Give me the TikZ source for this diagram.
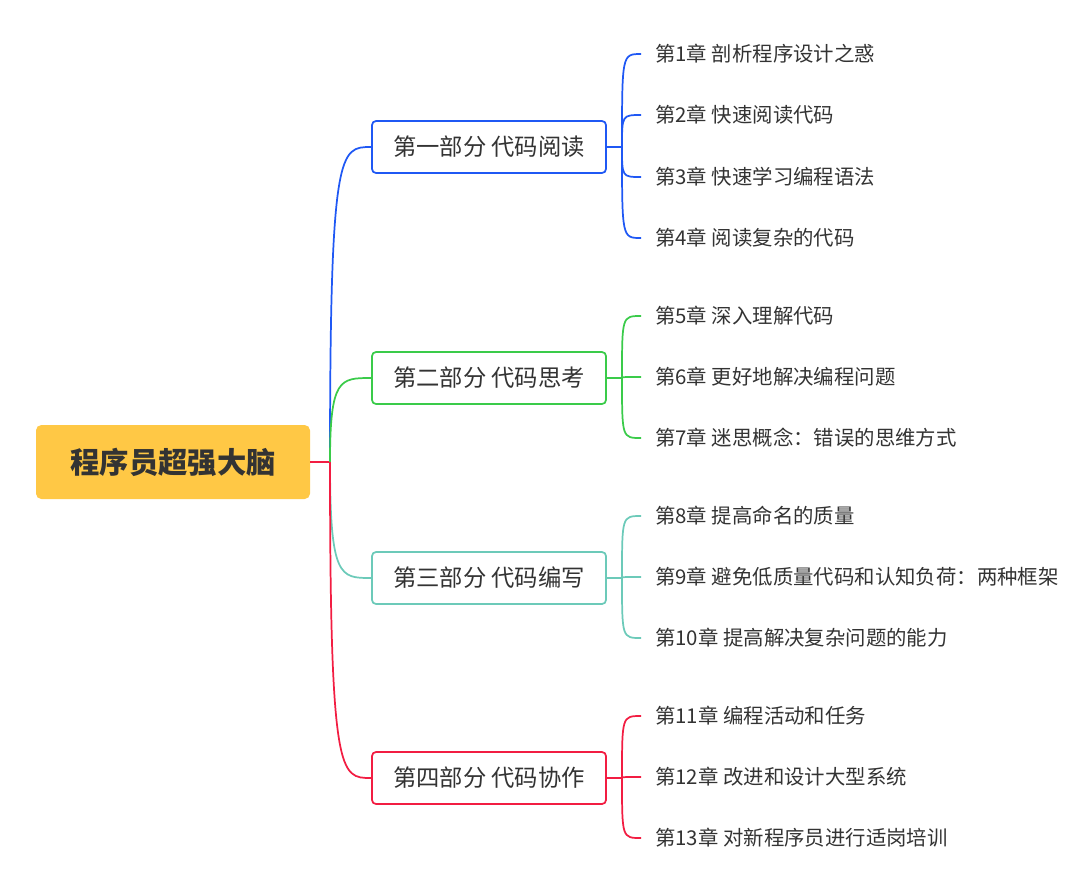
\documentclass[tikz,border=0pt]{standalone}
\usepackage{fontspec}
\setmainfont{Noto Sans CJK SC}
\usetikzlibrary{positioning}
\definecolor{rootfill}{HTML}{FFC845}
\definecolor{cblue}{HTML}{1F58F4}
\definecolor{cgreen}{HTML}{3ACB4A}
\definecolor{cteal}{HTML}{6CCAB9}
\definecolor{cred}{HTML}{F21D42}
\definecolor{ink}{HTML}{333333}
\tikzset{%
	rootbox/.style = {fill=rootfill, rounded corners=4pt, minimum width=205.5pt, minimum height=55.5pt, text=ink, font=\fontsize{22}{26}\selectfont\bfseries},
	partbox/.style = {draw, fill=white, line width=1.3pt, rounded corners=3pt, minimum width=175.5pt, minimum height=39pt, text=ink, font=\fontsize{17.5}{20}\selectfont},
	leaf/.style    = {anchor=west, inner sep=0pt, text=ink, font=\fontsize{15.3}{18}\selectfont},
	link/.style    = {line width=1.3pt},
}
\begin{document}
\begin{tikzpicture}[x=0.75pt,y=-0.75pt]
	\useasboundingbox (0,0) rectangle (1080,894);
	\node[rootbox] (root) at (173,462) {程序员超强大脑};
	\coordinate (hub) at (330,462);
	\draw[link,cred] (root.east) -- (hub);
	
	\foreach \name/\col/\y/\txt in {pA/cblue/147/第一部分 代码阅读, pB/cgreen/378/第二部分 代码思考, pC/cteal/578/第三部分 代码编写, pD/cred/778/第四部分 代码协作} {
		\node[partbox,draw=\col] (\name) at (489,\y) {\txt};
		\draw[link,\col] (hub) .. controls (330,\y) and (340,\y) .. (\name.west);
		\coordinate (\name-fork) at (622,\y);
		\draw[link,\col] (\name.east) -- (\name-fork);
	}
	
	\foreach \part/\col/\y/\txt [count=\i] in {pA/cblue/54/第1章 剖析程序设计之惑, pA/cblue/115/第2章 快速阅读代码, pA/cblue/177/第3章 快速学习编程语法, pA/cblue/238/第4章 阅读复杂的代码,
		pB/cgreen/316/第5章 深入理解代码, pB/cgreen/377/第6章 更好地解决编程问题, pB/cgreen/438/第7章 迷思概念：错误的思维方式,
		pC/cteal/516/第8章 提高命名的质量, pC/cteal/577/第9章 避免低质量代码和认知负荷：两种框架, pC/cteal/638/第10章 提高解决复杂问题的能力,
		pD/cred/716/第11章 编程活动和任务, pD/cred/777/第12章 改进和设计大型系统, pD/cred/838/第13章 对新程序员进行适岗培训} {
		\node[leaf] (ch\i) at (655,\y) {\txt};
		\draw[link,\col] (\part-fork) .. controls (622,\y) .. ([xshift=-10.5pt]ch\i.west);
	}
\end{tikzpicture}
\end{document}
